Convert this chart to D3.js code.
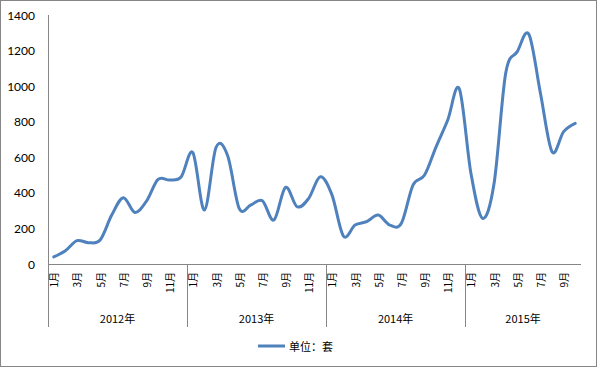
<!DOCTYPE html>
<html><head><meta charset="utf-8">
<script src="https://cdn.jsdelivr.net/npm/d3@7"></script>
<style>body{margin:0;background:#fff}svg{display:block}</style>
</head><body>
<script>
const years = ["2012年","2013年","2014年","2015年"];
const monthsPerYear = [12,12,12,10];
const values = [
 40,75,131,120,135,275,373,290,354,476,472,491,
 626,303,655,610,313,332,356,247,431,322,369,491,
 390,157,219,238,275,219,229,444,500,660,810,985,
 510,257,454,1072,1194,1292,960,631,744,791
];
const yTicks = [0,200,400,600,800,1000,1200,1400];
const legendLabel = "单位：套";

const W=597,H=367;
const svg = d3.select("body").append("svg").attr("width",W).attr("height",H);
svg.append("rect").attr("x",0.5).attr("y",0.5).attr("width",W-1).attr("height",H-1)
  .attr("fill","#fff").attr("stroke","#868686");

const cats = [];
years.forEach((y,yi)=>{for(let m=1;m<=monthsPerYear[yi];m++)cats.push({year:y,yi,m,key:y+m});});
const x = d3.scaleBand().domain(cats.map(c=>c.key)).range([48,581]).padding(0);
const y = d3.scaleLinear().domain([0,1400]).range([264,15]);
const axisColor="#868686";
const numFont="Lato, 'Open Sans', sans-serif";
const cjk="'Noto Sans CJK SC', sans-serif";

// y axis
svg.append("line").attr("x1",48.5).attr("x2",48.5).attr("y1",y(1400)).attr("y2",y(0)).attr("stroke",axisColor);
svg.selectAll(".yt").data(yTicks).enter().append("text")
  .attr("x",35).attr("y",d=>y(d)).attr("text-anchor","end").attr("dominant-baseline","central")
  .attr("font-family",numFont).attr("font-size",12).attr("fill","#000").text(d=>d);

// x axis
svg.append("line").attr("x1",48).attr("x2",581).attr("y1",264.5).attr("y2",264.5).attr("stroke",axisColor);
const groupStarts = cats.filter(c=>c.m===1);
svg.selectAll(".sep").data(groupStarts).enter().append("line")
  .attr("x1",d=>Math.round(x(d.key))+0.5).attr("x2",d=>Math.round(x(d.key))+0.5)
  .attr("y1",264).attr("y2",327).attr("stroke",axisColor);
// month labels
svg.selectAll(".ml").data(cats.filter(c=>c.m%2===1)).enter().append("text")
  .attr("transform",d=>`translate(${x(d.key)+x.bandwidth()/2},272) rotate(-90)`)
  .attr("text-anchor","end").attr("dominant-baseline","central")
  .attr("font-family",cjk).attr("font-size",10).attr("fill","#000").text(d=>d.m+"月");
// year labels
years.forEach((yr,yi)=>{
  const g = cats.filter(c=>c.yi===yi);
  const x0=x(g[0].key), x1=x(g[g.length-1].key)+x.bandwidth();
  svg.append("text").attr("x",(x0+x1)/2).attr("y",318).attr("text-anchor","middle")
   .attr("dominant-baseline","central").attr("font-family",cjk).attr("font-size",11).text(yr);
});

// line
const line = d3.line().x((d,i)=>x(cats[i].key)+x.bandwidth()/2).y(d=>y(d)).curve(d3.curveCardinal.tension(0));
svg.append("path").datum(values).attr("d",line).attr("fill","none").attr("stroke","#4F81BD")
  .attr("stroke-width",3).attr("stroke-linejoin","round").attr("stroke-linecap","round");

// legend
svg.append("line").attr("x1",258).attr("x2",285).attr("y1",346).attr("y2",346).attr("stroke","#4F81BD").attr("stroke-width",3);
svg.append("text").attr("x",289).attr("y",346).attr("dominant-baseline","central")
  .attr("font-family",cjk).attr("font-size",11).text(legendLabel);
</script>
</body></html>
